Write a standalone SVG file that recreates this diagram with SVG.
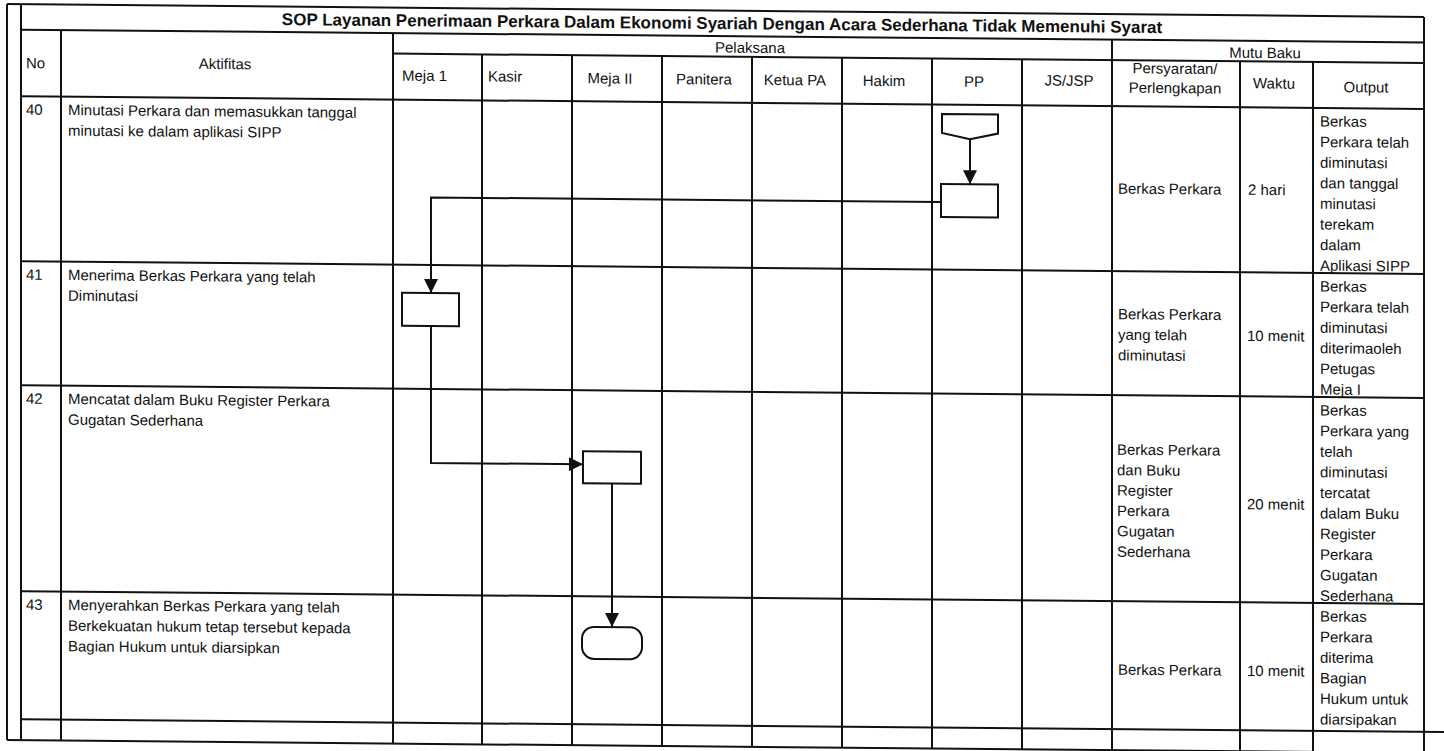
<svg xmlns="http://www.w3.org/2000/svg" width="1444" height="751" viewBox="0 0 1444 751">
<style>
  .grid line { stroke: #111; stroke-width: 2; }
  .t { font-family: "Liberation Sans", Arial, sans-serif; font-size: 15px; fill: #111; }
  .m { text-anchor: middle; }
  .title { font-family: "Liberation Sans", Arial, sans-serif; font-size: 17px; font-weight: bold; fill: #111; text-anchor: middle; }
  .shape { fill: #fff; stroke: #111; stroke-width: 2; }
  .conn { fill: none; stroke: #111; stroke-width: 2; }
</style>
<defs>
  <marker id="arrow" markerUnits="userSpaceOnUse" markerWidth="14" markerHeight="14" refX="14" refY="7" orient="auto">
    <path d="M0,0 L14,7 L0,14 Z" fill="#111"/>
  </marker>
</defs>
<rect x="0" y="0" width="1444" height="751" fill="#fff"/>
<g transform="skewY(0.52)">
  <g id="table" class="grid">
    <line x1="7" y1="4" x2="1424" y2="4"/>
    <line x1="7" y1="4" x2="7" y2="740"/>
    <line x1="21" y1="4" x2="21" y2="740"/>
    <line x1="21" y1="29.5" x2="1424" y2="29.5"/>
    <line x1="393" y1="50" x2="1424" y2="50"/>
    <line x1="21" y1="96" x2="1424" y2="96"/>
    <line x1="21" y1="261" x2="1424" y2="261"/>
    <line x1="21" y1="385" x2="1424" y2="385"/>
    <line x1="21" y1="591" x2="1424" y2="591"/>
    <line x1="21" y1="719" x2="1444" y2="719"/>
    <line x1="7" y1="740" x2="1444" y2="740"/>
    <line x1="61" y1="29.5" x2="61" y2="740"/>
    <line x1="393" y1="29.5" x2="393" y2="740"/>
    <line x1="482" y1="50" x2="482" y2="740"/>
    <line x1="572" y1="50" x2="572" y2="740"/>
    <line x1="662" y1="50" x2="662" y2="740"/>
    <line x1="752" y1="50" x2="752" y2="740"/>
    <line x1="842" y1="50" x2="842" y2="740"/>
    <line x1="932" y1="50" x2="932" y2="740"/>
    <line x1="1022" y1="50" x2="1022" y2="740"/>
    <line x1="1112" y1="29.5" x2="1112" y2="740"/>
    <line x1="1240" y1="50" x2="1240" y2="740"/>
    <line x1="1313" y1="50" x2="1313" y2="745"/>
    <line x1="1424" y1="4" x2="1424" y2="745"/>
  </g>
  <g id="headers">
    <text class="title" x="722" y="22.5">SOP Layanan Penerimaan Perkara Dalam Ekonomi Syariah Dengan Acara Sederhana Tidak Memenuhi Syarat</text>
    <text class="t" x="26" y="68">No</text>
    <text class="t m" x="225" y="67">Aktifitas</text>
    <text class="t m" x="750" y="46">Pelaksana</text>
    <text class="t m" x="1265" y="46.5">Mutu Baku</text>
    <text class="t" x="402" y="77">Meja 1</text>
    <text class="t" x="488" y="77">Kasir</text>
    <text class="t m" x="610" y="78">Meja II</text>
    <text class="t m" x="704" y="78">Panitera</text>
    <text class="t m" x="795" y="78">Ketua PA</text>
    <text class="t m" x="884" y="78">Hakim</text>
    <text class="t m" x="974" y="78">PP</text>
    <text class="t m" x="1069" y="76">JS/JSP</text>
    <text class="t m" x="1175" y="63">Persyaratan/</text>
    <text class="t m" x="1175" y="82.5">Perlengkapan</text>
    <text class="t m" x="1274" y="77">Waktu</text>
    <text class="t m" x="1366" y="80">Output</text>
  </g>
  <g id="row40">
    <text class="t" x="26" y="114.5">40</text>
    <text class="t" x="68" y="114.5">Minutasi Perkara dan memasukkan tanggal</text>
    <text class="t" x="68" y="135.1">minutasi ke dalam aplikasi SIPP</text>
    <text class="t" x="1118" y="183.5">Berkas Perkara</text>
    <text class="t" x="1248" y="183.5">2 hari</text>
    <text class="t" x="1320" y="114.5">Berkas</text>
    <text class="t" x="1320" y="135.1">Perkara telah</text>
    <text class="t" x="1320" y="155.7">diminutasi</text>
    <text class="t" x="1320" y="176.3">dan tanggal</text>
    <text class="t" x="1320" y="196.9">minutasi</text>
    <text class="t" x="1320" y="217.5">terekam</text>
    <text class="t" x="1320" y="238.1">dalam</text>
    <text class="t" x="1320" y="258.7">Aplikasi SIPP</text>
  </g>
  <g id="row41">
    <text class="t" x="26" y="279.5">41</text>
    <text class="t" x="68" y="279.5">Menerima Berkas Perkara yang telah</text>
    <text class="t" x="68" y="300.1">Diminutasi</text>
    <text class="t" x="1118" y="309">Berkas Perkara</text>
    <text class="t" x="1118" y="329.6">yang telah</text>
    <text class="t" x="1118" y="350.2">diminutasi</text>
    <text class="t" x="1247" y="329.6">10 menit</text>
    <text class="t" x="1320" y="279.5">Berkas</text>
    <text class="t" x="1320" y="300.1">Perkara telah</text>
    <text class="t" x="1320" y="320.7">diminutasi</text>
    <text class="t" x="1320" y="341.3">diterimaoleh</text>
    <text class="t" x="1320" y="361.9">Petugas</text>
    <text class="t" x="1320" y="382.5">Meja I</text>
  </g>
  <g id="row42">
    <text class="t" x="26" y="403.5">42</text>
    <text class="t" x="68" y="403.5">Mencatat dalam Buku Register Perkara</text>
    <text class="t" x="68" y="424.1">Gugatan Sederhana</text>
    <text class="t" x="1117" y="444.6">Berkas Perkara</text>
    <text class="t" x="1117" y="465">dan Buku</text>
    <text class="t" x="1117" y="485.4">Register</text>
    <text class="t" x="1117" y="505.8">Perkara</text>
    <text class="t" x="1117" y="526.2">Gugatan</text>
    <text class="t" x="1117" y="546.6">Sederhana</text>
    <text class="t" x="1247" y="498">20 menit</text>
    <text class="t" x="1320" y="403.5">Berkas</text>
    <text class="t" x="1320" y="424.1">Perkara yang</text>
    <text class="t" x="1320" y="444.7">telah</text>
    <text class="t" x="1320" y="465.3">diminutasi</text>
    <text class="t" x="1320" y="485.9">tercatat</text>
    <text class="t" x="1320" y="506.5">dalam Buku</text>
    <text class="t" x="1320" y="527.1">Register</text>
    <text class="t" x="1320" y="547.7">Perkara</text>
    <text class="t" x="1320" y="568.3">Gugatan</text>
    <text class="t" x="1320" y="588.9">Sederhana</text>
  </g>
  <g id="row43">
    <text class="t" x="26" y="609.5">43</text>
    <text class="t" x="68" y="609.5">Menyerahkan Berkas Perkara yang telah</text>
    <text class="t" x="68" y="630.1">Berkekuatan hukum tetap tersebut kepada</text>
    <text class="t" x="68" y="650.7">Bagian Hukum untuk diarsipkan</text>
    <text class="t" x="1118" y="664.6">Berkas Perkara</text>
    <text class="t" x="1247" y="664.6">10 menit</text>
    <text class="t" x="1320" y="609.5">Berkas</text>
    <text class="t" x="1320" y="630.1">Perkara</text>
    <text class="t" x="1320" y="650.7">diterima</text>
    <text class="t" x="1320" y="671.3">Bagian</text>
    <text class="t" x="1320" y="691.9">Hukum untuk</text>
    <text class="t" x="1320" y="712.5">diarsipakan</text>
  </g>
  <g id="connectors">
    <line class="conn" x1="970" y1="130.5" x2="970" y2="175.5" marker-end="url(#arrow)"/>
    <polyline class="conn" points="941,193.5 431,193.5 431,289" marker-end="url(#arrow)"/>
    <polyline class="conn" points="431,322 431,459 583,459" marker-end="url(#arrow)"/>
    <line class="conn" x1="612" y1="478" x2="612" y2="621.5" marker-end="url(#arrow)"/>
  </g>
  <g id="node-pp-start">
    <polygon class="shape" points="942,105.5 998,105.5 998,124.5 970,130.5 942,124.5"/>
  </g>
  <g id="node-pp-process">
    <rect class="shape" x="941" y="175.5" width="57" height="33"/>
  </g>
  <g id="node-meja1">
    <rect class="shape" x="402" y="289" width="57" height="33"/>
  </g>
  <g id="node-meja2">
    <rect class="shape" x="583" y="446" width="58" height="32"/>
  </g>
  <g id="node-end">
    <rect class="shape" x="582" y="621.5" width="60" height="32" rx="12" ry="12"/>
  </g>
</g>
</svg>
